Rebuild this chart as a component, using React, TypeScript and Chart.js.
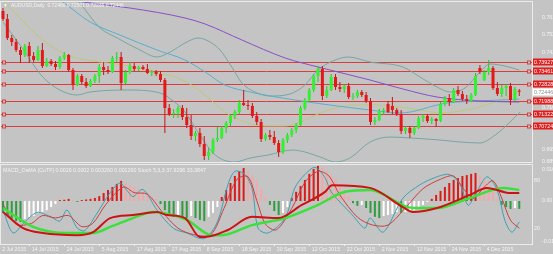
import React, { useEffect, useRef } from 'react';
import { Chart, registerables } from 'chart.js';

Chart.register(...registerables);

const BG = '#c4c4c4';
const FG = '#f4f4f4';
const FONT = "'Liberation Sans', Arial, sans-serif";

const symbolTitle = 'AUDUSD,Daily';
const macdTitle = 'MACD_OsMA [CoTF] 0.0026 0.0002 0.003260 0.001260 Stoch 5,3,3 37.9296 33.3847';

const dateLabels = ['2 Jul 2015', '14 Jul 2015', '24 Jul 2015', '5 Aug 2015', '17 Aug 2015', '27 Aug 2015', '8 Sep 2015', '18 Sep 2015', '30 Sep 2015', '12 Oct 2015', '22 Oct 2015', '2 Nov 2015', '12 Nov 2015', '24 Nov 2015', '4 Dec 2015'];
const dateIdx = [-0.75, 6, 14, 22, 30, 38, 46, 54, 62, 70, 78, 86, 94, 102, 110];

const openP = [
  0.7648, 0.7608, 0.7513, 0.7493, 0.7453, 0.7428, 0.7473, 0.7423, 0.7403, 0.7453,
  0.7373, 0.7398, 0.7383, 0.7368, 0.7413, 0.7428, 0.7353, 0.7278, 0.7323, 0.7293,
  0.7273, 0.7298, 0.7323, 0.7368, 0.7353, 0.7343, 0.7413, 0.7418, 0.7288, 0.7343,
  0.7373, 0.7358, 0.7368, 0.7358, 0.7338, 0.7343, 0.7333, 0.7303, 0.7163, 0.7133,
  0.7138, 0.7163, 0.7118, 0.7078, 0.7023, 0.7038, 0.6983, 0.6923, 0.6943, 0.7003,
  0.7013, 0.7063, 0.7088, 0.7123, 0.7143, 0.7188, 0.7178, 0.7173, 0.7123, 0.7093,
  0.7008, 0.7028, 0.7018, 0.6988, 0.6943, 0.7003, 0.7028, 0.7053, 0.7078, 0.7163,
  0.7203, 0.7253, 0.7323, 0.7358, 0.7223, 0.7253, 0.7318, 0.7268, 0.7258, 0.7273,
  0.7218, 0.7223, 0.7243, 0.7228, 0.7198, 0.7093, 0.7103, 0.7148, 0.7183, 0.7173,
  0.7153, 0.7133, 0.7048, 0.7063, 0.7038, 0.7063, 0.7113, 0.7123, 0.7098, 0.7108,
  0.7098, 0.7183, 0.7213, 0.7193, 0.7253, 0.7233, 0.7208, 0.7198, 0.7228, 0.7363,
  0.7303, 0.7343, 0.7363, 0.7263, 0.7233, 0.7263, 0.7273, 0.7203, 0.72486,
];
const highP = [
  0.7663, 0.7633, 0.7528, 0.7508, 0.7468, 0.7483, 0.7493, 0.7443, 0.7473, 0.7488,
  0.7413, 0.7408, 0.7398, 0.7423, 0.7443, 0.7433, 0.7363, 0.7333, 0.7333, 0.7313,
  0.7308, 0.7333, 0.7383, 0.7393, 0.7373, 0.7423, 0.7443, 0.7443, 0.7353, 0.7393,
  0.7388, 0.7373, 0.7378, 0.7383, 0.7353, 0.7353, 0.7348, 0.7313, 0.7183, 0.7158,
  0.7173, 0.7178, 0.7163, 0.7128, 0.7048, 0.7063, 0.7023, 0.6963, 0.7013, 0.7068,
  0.7073, 0.7098, 0.7133, 0.7153, 0.7203, 0.7253, 0.7203, 0.7188, 0.7143, 0.7108,
  0.7038, 0.7053, 0.7048, 0.7003, 0.7013, 0.7038, 0.7063, 0.7088, 0.7173, 0.7213,
  0.7263, 0.7333, 0.7373, 0.7373, 0.7273, 0.7333, 0.7333, 0.7293, 0.7283, 0.7288,
  0.7238, 0.7253, 0.7253, 0.7243, 0.7213, 0.7118, 0.7158, 0.7163, 0.7198, 0.7218,
  0.7163, 0.7153, 0.7073, 0.7073, 0.7073, 0.7123, 0.7133, 0.7133, 0.7118, 0.7113,
  0.7193, 0.7223, 0.7233, 0.7263, 0.7273, 0.7248, 0.7228, 0.7238, 0.7338, 0.7378,
  0.7353, 0.7403, 0.7373, 0.7293, 0.7278, 0.7283, 0.7288, 0.7268, 0.72581,
];
const lowP = [
  0.7598, 0.7503, 0.7473, 0.7443, 0.7388, 0.7418, 0.7388, 0.7393, 0.7398, 0.7363,
  0.7368, 0.7373, 0.7353, 0.7358, 0.7403, 0.7343, 0.7253, 0.7273, 0.7283, 0.7263,
  0.7268, 0.7288, 0.7288, 0.7328, 0.7333, 0.7338, 0.7393, 0.7253, 0.7283, 0.7333,
  0.7348, 0.7348, 0.7353, 0.7333, 0.7323, 0.7323, 0.7293, 0.7038, 0.7123, 0.7113,
  0.7113, 0.7103, 0.7063, 0.7003, 0.6998, 0.6968, 0.6903, 0.6903, 0.6933, 0.6993,
  0.7008, 0.7038, 0.7073, 0.7108, 0.7133, 0.7173, 0.7153, 0.7113, 0.7078, 0.6993,
  0.6998, 0.7003, 0.6978, 0.6918, 0.6933, 0.6988, 0.7018, 0.7038, 0.7073, 0.7153,
  0.7193, 0.7243, 0.7293, 0.7203, 0.7213, 0.7248, 0.7253, 0.7243, 0.7238, 0.7208,
  0.7203, 0.7213, 0.7218, 0.7188, 0.7078, 0.7078, 0.7098, 0.7128, 0.7138, 0.7133,
  0.7123, 0.7033, 0.7033, 0.7013, 0.7028, 0.7058, 0.7093, 0.7088, 0.7083, 0.7068,
  0.7093, 0.7173, 0.7173, 0.7188, 0.7223, 0.7198, 0.7183, 0.7193, 0.7223, 0.7333,
  0.7298, 0.7328, 0.7253, 0.7223, 0.7218, 0.7223, 0.7178, 0.7198, 0.72235,
];
const closeP = [
  0.7608, 0.7513, 0.7493, 0.7453, 0.7428, 0.7473, 0.7423, 0.7403, 0.7453, 0.7373,
  0.7398, 0.7383, 0.7368, 0.7413, 0.7428, 0.7353, 0.7278, 0.7323, 0.7293, 0.7273,
  0.7298, 0.7323, 0.7368, 0.7353, 0.7343, 0.7413, 0.7418, 0.7288, 0.7343, 0.7373,
  0.7358, 0.7368, 0.7358, 0.7338, 0.7343, 0.7333, 0.7303, 0.7163, 0.7133, 0.7138,
  0.7163, 0.7118, 0.7078, 0.7023, 0.7038, 0.6983, 0.6923, 0.6943, 0.7003, 0.7013,
  0.7063, 0.7088, 0.7123, 0.7143, 0.7188, 0.7178, 0.7173, 0.7123, 0.7093, 0.7008,
  0.7028, 0.7018, 0.6988, 0.6943, 0.7003, 0.7028, 0.7053, 0.7078, 0.7163, 0.7203,
  0.7253, 0.7323, 0.7358, 0.7223, 0.7253, 0.7318, 0.7268, 0.7258, 0.7273, 0.7218,
  0.7223, 0.7243, 0.7228, 0.7198, 0.7093, 0.7103, 0.7148, 0.7153, 0.7143, 0.7153,
  0.7133, 0.7048, 0.7063, 0.7038, 0.7063, 0.7113, 0.7123, 0.7098, 0.7108, 0.7098,
  0.7183, 0.7213, 0.7193, 0.7253, 0.7233, 0.7208, 0.7198, 0.7228, 0.7323, 0.7343,
  0.7343, 0.7363, 0.7263, 0.7233, 0.7263, 0.7273, 0.7203, 0.7258, 0.72446,
];

const levelPrices = [0.73927, 0.73461, 0.72828, 0.71988, 0.71322, 0.70724];
const priceTicks = [0.7614, 0.7529, 0.7439, 0.71652, 0.69545, 0.68945];
const priceTickLabels = ['0.76140', '0.75290', '0.74390', '0.71652', '0.69545', '0.68945'];

// [bar index, price]
const maSlow = [[-0.5, 0.7768], [18.3, 0.7693], [29, 0.7663], [41.6, 0.7613], [46.2, 0.7583], [54.6, 0.7503], [64.5, 0.7413], [72, 0.7368], [83.9, 0.7303], [91.4, 0.7258], [99.2, 0.7218], [109, 0.7198], [118, 0.7193]];
const maFast = [[-0.5, 0.7853], [13, 0.7703], [19.9, 0.7593], [26.7, 0.7528], [35.2, 0.7453], [41.6, 0.7403], [46.2, 0.7343], [50.7, 0.7278], [56.5, 0.7243], [66.7, 0.7203], [74.7, 0.7178], [83.9, 0.7153], [90.7, 0.7138], [101.5, 0.7188], [109, 0.7198], [118, 0.7208]];
const bbUpper = [[10.7, 0.7803], [16.9, 0.7703], [22.2, 0.7563], [26.1, 0.7513], [31.3, 0.7453], [35.2, 0.7418], [38.2, 0.7443], [41.6, 0.7488], [44.6, 0.7513], [47.3, 0.7493], [49.6, 0.7453], [52.3, 0.7368], [54.6, 0.7288], [57.6, 0.7243], [61, 0.7223], [65.6, 0.7233], [69, 0.7278], [72, 0.7353], [75.4, 0.7398], [78.9, 0.7418], [83.9, 0.7393], [91.4, 0.7368], [95.3, 0.7318], [99.2, 0.7268], [102.2, 0.7243], [105.6, 0.7263], [109, 0.7343], [111.3, 0.7383], [114.7, 0.7373], [118, 0.7353]];
const bbMid = [[0, 0.7698], [3.9, 0.7613], [9.1, 0.7503], [15.3, 0.7423], [22.2, 0.7393], [29, 0.7373], [35.2, 0.7338], [39.3, 0.7318], [42.7, 0.7283], [46.2, 0.7228], [50.7, 0.7143], [55.3, 0.7093], [59.9, 0.7073], [64.5, 0.7073], [67.9, 0.7093], [72, 0.7133], [75.9, 0.7163], [80.5, 0.7178], [85, 0.7178], [90.7, 0.7168], [95.3, 0.7153], [99.9, 0.7138], [104.5, 0.7148], [109, 0.7168], [113.6, 0.7203], [118, 0.7243]];
const bbLower = [[0, 0.7593], [3.9, 0.7478], [9.1, 0.7318], [13, 0.7253], [16.9, 0.7228], [19.9, 0.7243], [28.3, 0.7253], [35.9, 0.7238], [38.6, 0.7203], [41.6, 0.7143], [45, 0.7028], [48.5, 0.6928], [53, 0.6893], [56.5, 0.6913], [60.6, 0.6928], [66.1, 0.6953], [69, 0.6943], [72.5, 0.6918], [75.9, 0.6893], [79.3, 0.6913], [83.9, 0.6993], [88.5, 0.7018], [93, 0.7013], [99.9, 0.7003], [104.5, 0.6993], [109, 0.6988], [112.5, 0.7028], [115.9, 0.7093], [118.2, 0.7143]];

const histogram = [
  -0.0039, -0.0049, -0.0059, -0.0066, -0.0069, -0.0059, -0.0052, -0.0049, -0.0039, -0.0036,
  -0.0030, -0.0020, -0.0010, 0.0003, 0.0004, 0.0007, 0.0003, -0.0003, 0.0003, 0.0005,
  0.0007, 0.0010, 0.0016, 0.0026, 0.0036, 0.0046, 0.0056, 0.0066, 0.0059, 0.0052,
  0.0046, 0.0039, 0.0030, 0.0023, 0.0013, 0.0007, -0.0010, -0.0030, -0.0043, -0.0052,
  -0.0049, -0.0052, -0.0056, -0.0049, -0.0056, -0.0062, -0.0066, -0.0052, -0.0039, -0.0020,
  0.0013, 0.0036, 0.0059, 0.0082, 0.0098, 0.0108, 0.0098, 0.0085, 0.0066, 0.0039,
  0.0013, -0.0013, -0.0033, -0.0046, -0.0039, -0.0020, 0.0010, 0.0030, 0.0049, 0.0069,
  0.0089, 0.0105, 0.0115, 0.0108, 0.0098, 0.0085, 0.0072, 0.0056, 0.0036, 0.0016,
  -0.0007, -0.0016, -0.0013, -0.0023, -0.0039, -0.0052, -0.0056, -0.0049, -0.0046, -0.0043,
  -0.0036, -0.0039, -0.0036, -0.0033, -0.0030, -0.0023, -0.0013, -0.0003, 0.0007, 0.0020,
  0.0033, 0.0046, 0.0059, 0.0069, 0.0075, 0.0082, 0.0085, 0.0089, 0.0092, 0.0085,
  0.0066, 0.0049, 0.0030, 0.0010, -0.0013, -0.0020, -0.0026, -0.0023, -0.0026,
];
const macdGreen = [[0, -0.0023], [6.9, -0.0085], [14.6, -0.0105], [20.6, -0.0105], [24.5, -0.0085], [29.7, -0.0056], [34.3, -0.0036], [36.6, -0.0039], [42, -0.0062], [47.8, -0.0112], [50, -0.0112], [56.9, -0.0079], [64.5, -0.0056], [72, -0.0013], [78.2, 0.0030], [83.9, 0.0036], [93.7, -0.0023], [99.2, -0.0023], [106.7, 0.0010], [114.3, 0.0043], [118, 0.0036]];
const macdRed = [[0, -0.0036], [4.6, -0.0089], [9.1, -0.0105], [17, -0.0112], [20.6, -0.0102], [24.5, -0.0056], [29.7, -0.0046], [35.2, -0.0036], [37.5, -0.0046], [41.6, -0.0056], [45, -0.0118], [46.2, -0.0118], [51.4, -0.0095], [56.9, -0.0052], [62.9, -0.0056], [68.3, -0.0013], [73.6, 0.0030], [75.2, 0.0052], [83.9, 0.0043], [91.4, -0.0020], [93.7, -0.0036], [99.2, -0.0023], [106.7, 0.0020], [110.6, 0.0043], [116, 0.0026], [118, 0.0026]];
const stochK = [[0, 43], [2.3, 14], [5, 28], [7.8, 40], [10.7, 35], [13, 29], [14.6, 43], [17, 20], [18.7, 17], [21.5, 39], [24.5, 65], [26.7, 77], [28.6, 66], [29.7, 60], [32, 69], [35.2, 43], [38.9, 20], [42, 14], [46, 7], [49, 28], [51.4, 75], [53, 92], [55.3, 88], [57, 69], [58.3, 20], [60.6, 14], [64.5, 33], [66.7, 71], [69, 88], [71.3, 97], [73.6, 84], [75, 66], [79.8, 37], [82.7, 20], [83.9, 33], [86.9, 15], [91.4, 58], [95.3, 75], [98.7, 84], [102, 88], [104.5, 75], [106.3, 49], [107.9, 62], [110.6, 85], [112.9, 69], [114.7, 30], [116.3, 15], [118, 28]];
const stochD = [[0, 50], [3, 25], [6.5, 26], [9, 36], [12, 33], [15, 36], [18, 22], [20.5, 26], [23.5, 50], [27.5, 72], [30, 65], [33, 63], [36.5, 40], [40, 20], [43.5, 12], [47.5, 12], [50.5, 45], [53.5, 82], [56, 85], [58, 55], [60, 25], [62.5, 18], [66, 45], [69, 78], [72, 92], [74.5, 86], [77, 62], [81, 34], [84.5, 24], [88, 24], [92, 46], [96, 70], [100, 82], [103, 86], [105.5, 68], [107.5, 58], [110, 72], [112, 80], [114, 58], [116, 30], [118, 20]];
const macdTicks = [0.010473, 0, -0.01326];
const macdTickLabels = ['0.010473', '0.00', '-0.01326'];
const stochLevels = [80, 20];

const X_MIN = -0.457;
const X_MAX = 120.91;
const PRICE_MIN = 0.6893;
const PRICE_MAX = 0.7693;
const MACD_MIN = -0.0141;
const MACD_MAX = 0.0118;

const UP = '#33f033';
const DOWN = '#e41818';
const LEVEL = '#dc3c3c';
const AXIS_FONT = 5.3;

const pts = (arr: number[][]) => arr.map(([x, y]) => ({ x, y }));

const lineDs = (data: number[][], color: string, width: number, extra: any = {}) => ({
  type: 'line',
  data: pts(data),
  borderColor: color,
  borderWidth: width,
  pointRadius: 0,
  fill: false,
  cubicInterpolationMode: 'monotone',
  clip: 0,
  ...extra,
});

const frame = (ctx: any, a: any) => {
  ctx.save();
  ctx.strokeStyle = '#ececec';
  ctx.lineWidth = 1;
  ctx.strokeRect(a.left - 0.5, a.top - 0.5, a.right - a.left + 1, a.bottom - a.top + 1);
  ctx.restore();
};

const mainPlugin = {
  id: 'mainDecor',
  beforeDraw(chart: any) {
    const { ctx, width, height } = chart;
    ctx.save();
    ctx.fillStyle = BG;
    ctx.fillRect(0, 0, width, height);
    ctx.restore();
  },
  beforeDatasetsDraw(chart: any) {
    const { ctx, chartArea: a, scales } = chart;
    ctx.save();
    ctx.strokeStyle = LEVEL;
    ctx.lineWidth = 1;
    levelPrices.forEach((p) => {
      const py = Math.round(scales.y.getPixelForValue(p)) + 0.5;
      ctx.beginPath();
      ctx.moveTo(a.left, py);
      ctx.lineTo(a.right, py);
      ctx.stroke();
    });
    ctx.restore();
  },
  afterDraw(chart: any) {
    const { ctx, chartArea: a, scales, width } = chart;
    frame(ctx, a);
    ctx.save();
    ctx.font = `${AXIS_FONT}px ${FONT}`;
    ctx.textBaseline = 'middle';
    ctx.textAlign = 'left';
    levelPrices.forEach((p) => {
      const py = Math.round(scales.y.getPixelForValue(p)) + 0.5;
      ctx.fillStyle = BG;
      ctx.fillRect(a.left + 1, py - 1.5, 3, 3);
      ctx.fillRect(a.right - 5, py - 1.5, 3, 3);
      ctx.strokeStyle = LEVEL;
      ctx.strokeRect(a.left + 1.5, py - 1.5, 3, 3);
      ctx.strokeRect(a.right - 4.5, py - 1.5, 3, 3);
      const x0 = a.right + 1;
      ctx.fillStyle = '#e01c1c';
      ctx.fillRect(x0, py - 4, width - x0, 7);
      ctx.fillStyle = '#ffffff';
      ctx.fillText(p.toFixed(5), x0 + 1, py);
    });
    const last = closeP[closeP.length - 1];
    const cy = Math.round(scales.y.getPixelForValue(last)) + 0.5;
    const x0 = a.right + 1;
    ctx.fillStyle = '#ffffff';
    ctx.fillRect(x0, cy - 4, width - x0, 7);
    ctx.fillStyle = '#8a8a8a';
    ctx.fillText(last.toFixed(5), x0 + 1, cy);

    const n = closeP.length - 1;
    ctx.fillStyle = FG;
    ctx.font = `5px ${FONT}`;
    ctx.fillText('\u25BC', 3, 6);
    ctx.fillText(
      `${symbolTitle}  ${openP[n].toFixed(5)} ${highP[n].toFixed(5)} ${lowP[n].toFixed(5)} ${closeP[n].toFixed(5)}`,
      11,
      6
    );
    ctx.restore();
  },
};

const subPlugin = {
  id: 'subDecor',
  beforeDraw(chart: any) {
    const { ctx, width, height } = chart;
    ctx.save();
    ctx.fillStyle = BG;
    ctx.fillRect(0, 0, width, height);
    ctx.restore();
  },
  afterDraw(chart: any) {
    const { ctx, chartArea: a, scales } = chart;
    frame(ctx, a);
    ctx.save();
    ctx.fillStyle = FG;
    ctx.textBaseline = 'middle';
    ctx.textAlign = 'left';
    ctx.font = `${AXIS_FONT}px ${FONT}`;
    stochLevels.forEach((v) => ctx.fillText(String(v), a.right + 2, scales.ys.getPixelForValue(v)));
    ctx.font = `5.3px ${FONT}`;
    ctx.fillText(macdTitle, 3, 8);
    ctx.restore();
  },
};

export default function App() {
  const mainRef = useRef<HTMLCanvasElement>(null);
  const subRef = useRef<HTMLCanvasElement>(null);

  useEffect(() => {
    document.body.style.margin = '0';
    document.body.style.background = BG;

    const up = closeP.map((c, i) => c >= openP[i]);
    const wickData = lowP.map((l, i) => ({ x: i, y: [l, highP[i]] }));
    const bodyData = openP.map((o, i) => ({ x: i, y: [o, closeP[i]] }));

    const main = new Chart(mainRef.current as HTMLCanvasElement, {
      type: 'bar',
      data: {
        datasets: [
          lineDs(bbUpper, '#76a7a2', 1, { order: 9 }),
          lineDs(bbLower, '#76a7a2', 1, { order: 9 }),
          lineDs(bbMid, '#c2c872', 1, { order: 8 }),
          lineDs(maFast, '#5aafd0', 1, { order: 7 }),
          lineDs(maSlow, '#8a4fc8', 1, { order: 6 }),
          {
            type: 'bar',
            data: wickData,
            backgroundColor: up.map((u) => (u ? '#22cc22' : '#c81414')),
            maxBarThickness: 1,
            grouped: false,
            order: 2,
          },
          {
            type: 'bar',
            data: bodyData,
            backgroundColor: up.map((u) => (u ? UP : DOWN)),
            maxBarThickness: 3,
            minBarLength: 1,
            grouped: false,
            order: 1,
          },
        ],
      } as any,
      options: {
        responsive: false,
        animation: false,
        events: [],
        layout: { padding: { left: 1, top: 2, right: 0, bottom: 1 } },
        plugins: { legend: { display: false }, tooltip: { enabled: false } },
        scales: {
          x: { type: 'linear', min: X_MIN, max: X_MAX, offset: false, display: false, grid: { offset: false } },
          y: {
            position: 'right',
            min: PRICE_MIN,
            max: PRICE_MAX,
            beginAtZero: false,
            grid: { display: false },
            border: { display: false },
            afterBuildTicks: (s: any) => {
              s.ticks = priceTicks.map((v) => ({ value: v }));
            },
            afterFit: (s: any) => {
              s.width = 21;
              s.paddingTop = 0;
              s.paddingBottom = 0;
            },
            ticks: {
              autoSkip: false,
              padding: 2,
              color: FG,
              font: { size: AXIS_FONT, family: FONT },
              callback: (_v: any, i: number) => priceTickLabels[i],
            },
          },
        },
      } as any,
      plugins: [mainPlugin],
    });

    const histColors = histogram.map((v, i) => {
      const prev = i > 0 ? histogram[i - 1] : v;
      if (v >= 0) return v >= prev ? '#dc1a1a' : '#f2a8a8';
      return v <= prev ? '#2f9d3f' : '#ffffff';
    });

    const sub = new Chart(subRef.current as HTMLCanvasElement, {
      type: 'bar',
      data: {
        datasets: [
          lineDs(stochK, '#3ba2b6', 1, { yAxisID: 'ys', order: 4, tension: 0.3, cubicInterpolationMode: 'default' }),
          lineDs(stochD, '#d23c3c', 1, { yAxisID: 'ys', order: 3, tension: 0.3, cubicInterpolationMode: 'default' }),
          lineDs(macdGreen, '#3be03b', 2.5, { yAxisID: 'y', order: 2 }),
          lineDs(macdRed, '#cc1212', 2, { yAxisID: 'y', order: 1 }),
          {
            type: 'bar',
            data: histogram.map((v, i) => ({ x: i, y: v })),
            backgroundColor: histColors,
            maxBarThickness: 2,
            grouped: false,
            yAxisID: 'y',
            order: 5,
          },
        ],
      } as any,
      options: {
        responsive: false,
        animation: false,
        events: [],
        layout: { padding: { left: 1, top: 2, right: 0, bottom: 0 } },
        plugins: { legend: { display: false }, tooltip: { enabled: false } },
        scales: {
          x: {
            type: 'linear',
            min: X_MIN,
            max: X_MAX,
            offset: false,
            position: 'bottom',
            grid: { display: true, offset: false, drawOnChartArea: false, drawTicks: true, tickLength: 2, color: FG },
            border: { display: false },
            afterBuildTicks: (s: any) => {
              s.ticks = dateIdx.map((v) => ({ value: v }));
            },
            afterFit: (s: any) => {
              s.height = 10;
              s.paddingLeft = 0;
              s.paddingRight = 0;
            },
            ticks: {
              autoSkip: false,
              maxRotation: 0,
              minRotation: 0,
              align: 'start',
              labelOffset: 2.5,
              padding: 0,
              color: FG,
              font: { size: 5.2, family: FONT },
              callback: (_v: any, i: number) => dateLabels[i],
            },
          },
          y: {
            position: 'right',
            min: MACD_MIN,
            max: MACD_MAX,
            beginAtZero: false,
            grid: { display: false },
            border: { display: false },
            afterBuildTicks: (s: any) => {
              s.ticks = macdTicks.map((v) => ({ value: v }));
            },
            afterFit: (s: any) => {
              s.width = 21;
              s.paddingTop = 0;
              s.paddingBottom = 0;
            },
            ticks: {
              autoSkip: false,
              padding: 2,
              color: FG,
              font: { size: AXIS_FONT, family: FONT },
              callback: (_v: any, i: number) => macdTickLabels[i],
            },
          },
          ys: { display: false, min: 0, max: 100 },
        },
      } as any,
      plugins: [subPlugin],
    });

    return () => {
      main.destroy();
      sub.destroy();
    };
  }, []);

  return (
    <div style={{ position: 'absolute', left: 0, top: 0, width: 553, height: 254, background: BG }}>
      <canvas ref={mainRef} width={553} height={163} style={{ display: 'block', width: 553, height: 163 }} />
      <canvas ref={subRef} width={553} height={91} style={{ display: 'block', width: 553, height: 91 }} />
    </div>
  );
}
